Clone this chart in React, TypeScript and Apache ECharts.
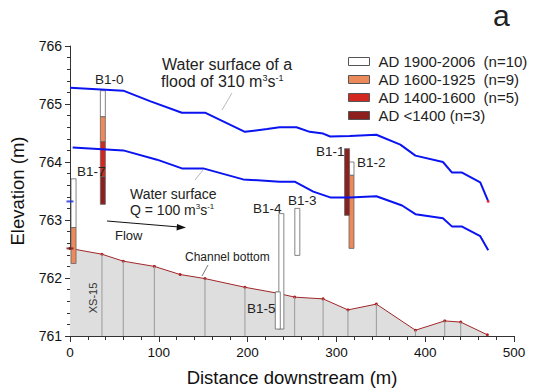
import React, { useEffect, useRef } from "react";
import * as echarts from "echarts";

// ---- data ----
const xTicks = [0, 100, 200, 300, 400, 500];
const yTicks = [761, 762, 763, 764, 765, 766];

// water surface of flood 310 m3/s  [distance, elevation]
const floodSurface: number[][] = [
  [0, 765.28], [60, 765.23], [90, 765.05], [126, 764.85], [152, 764.85], [197, 764.52],
  [222, 764.57], [236, 764.6], [255, 764.6], [270, 764.52], [285, 764.49], [293, 764.44],
  [315, 764.45], [345, 764.47], [372, 764.3], [389, 764.11], [420, 764.0], [430, 763.82],
  [441, 763.82], [462, 763.65], [471, 763.32],
];
// water surface Q = 100 m3/s
const lowSurface: number[][] = [
  [3, 764.25], [60, 764.2], [98, 764.04], [126, 763.89], [150, 763.89], [195, 763.7],
  [236, 763.66], [253, 763.66], [274, 763.49], [293, 763.39], [315, 763.39], [345, 763.41],
  [374, 763.25], [389, 763.1], [420, 763.03], [430, 762.89], [441, 762.89], [462, 762.72],
  [471, 762.48],
];
// channel bottom
const channelBottom: number[][] = [
  [0, 762.51], [36, 762.41], [60, 762.29], [95, 762.2], [124, 762.06], [152, 761.99],
  [197, 761.84], [233, 761.74], [253, 761.67], [285, 761.64], [313, 761.45], [345, 761.55],
  [389, 761.1], [422, 761.26], [440, 761.24], [470, 761.02],
];
// cross-section lines (distance, bottom elevation)
const crossSections: number[][] = [
  [36, 762.41], [60, 762.29], [95, 762.2], [152, 761.99], [197, 761.84], [253, 761.67],
  [285, 761.64], [313, 761.45], [345, 761.55], [389, 761.1], [422, 761.26], [440, 761.24],
];

// core segments by age class: [distance, top elevation, bottom elevation]
const age1900: number[][] = [
  [4, 763.71, 762.87], [37, 765.23, 764.78], [238, 763.11, 761.12], [234, 761.76, 761.12],
  [256, 763.2, 762.39], [317, 764.0, 763.77],
];
const age1600: number[][] = [
  [4, 762.87, 762.25], [37, 764.78, 764.35], [317, 763.77, 762.51],
];
const age1400: number[][] = [[37, 764.35, 763.75]];
const ageOld: number[][] = [[37, 763.75, 763.27], [312, 764.23, 763.08]];

const ageNames = ["AD 1900-2006  (n=10)", "AD 1600-1925  (n=9)", "AD 1400-1600  (n=5)", "AD <1400 (n=3)"];
const ageColors = ["#ffffff", "#ec8a5c", "#d2281f", "#8e1f1f"];

const FONT = "Liberation Sans, Arial, sans-serif";

export default function App() {
  const ref = useRef<HTMLDivElement>(null);
  useEffect(() => {
    if (!ref.current) return;
    const chart = echarts.init(ref.current, null, { renderer: "svg" });

    const coreSeries = (name: string, data: number[][], color: string) => ({
      name,
      type: "custom",
      z: 3,
      data,
      encode: { x: 0, y: [1, 2] },
      itemStyle: { color, borderColor: "#555", borderWidth: 1 },
      renderItem: (params: any, api: any) => {
        const x = api.value(0);
        const p1 = api.coord([x, api.value(1)]);
        const p2 = api.coord([x, api.value(2)]);
        const w = 5;
        return {
          type: "rect",
          shape: { x: p1[0] - w / 2, y: p1[1], width: w, height: p2[1] - p1[1] },
          style: { fill: color, stroke: "#666", lineWidth: 0.8 },
        };
      },
    });

    const txt = (left: number, top: number, text: string, size = 13, extra: any = {}) => ({
      type: "text",
      left,
      top,
      z: 20,
      style: { text, fontSize: size, fontFamily: FONT, fill: "#222", ...extra },
    });
    const rich16 = {
      n: { fontSize: 16, fontFamily: FONT, fill: "#222" },
      s: { fontSize: 9, fontFamily: FONT, fill: "#222", verticalAlign: "top", padding: [0, 0, 8, 0] },
    };
    const rich14 = {
      n: { fontSize: 14, fontFamily: FONT, fill: "#222" },
      s: { fontSize: 8, fontFamily: FONT, fill: "#222", verticalAlign: "top", padding: [0, 0, 7, 0] },
    };

    chart.setOption({
      animation: false,
      backgroundColor: "#fff",
      textStyle: { fontFamily: FONT },
      grid: { left: 70, right: 21, top: 46, bottom: 55 },
      xAxis: {
        type: "value",
        min: xTicks[0],
        max: xTicks[xTicks.length - 1],
        interval: 100,
        name: "Distance downstream (m)",
        nameLocation: "middle",
        nameGap: 32,
        nameTextStyle: { fontSize: 18.5, color: "#111", fontFamily: FONT },
        axisLine: { lineStyle: { color: "#333", width: 1 } },
        axisTick: { length: 6, lineStyle: { color: "#333" } },
        minorTick: { show: true, splitNumber: 5, length: 4, lineStyle: { color: "#333" } },
        splitLine: { show: false },
        axisLabel: { fontSize: 13.5, color: "#111", margin: 9, fontFamily: FONT },
      },
      yAxis: {
        type: "value",
        min: yTicks[0],
        max: yTicks[yTicks.length - 1],
        interval: 1,
        name: "Elevation (m)",
        nameLocation: "middle",
        nameGap: 43,
        nameTextStyle: { fontSize: 18.5, color: "#111", fontFamily: FONT },
        axisLine: { show: true, lineStyle: { color: "#333", width: 1 } },
        axisTick: { show: true, length: 5, lineStyle: { color: "#333" } },
        minorTick: { show: true, splitNumber: 5, length: 3, lineStyle: { color: "#333" } },
        splitLine: { show: false },
        axisLabel: { fontSize: 14, color: "#111", margin: 8, fontFamily: FONT },
      },
      legend: {
        orient: "vertical",
        left: 348,
        top: 54,
        padding: 0,
        itemWidth: 21,
        itemHeight: 8,
        itemGap: 3,
        icon: "rect",
        textStyle: { fontSize: 15, color: "#222", fontFamily: FONT, padding: [0, 0, 0, 4] },
        data: ageNames.map((n, i) => ({
          name: n,
          itemStyle: { color: ageColors[i], borderColor: "#555", borderWidth: 1 },
        })),
      },
      series: [
        {
          name: "Channel bottom",
          type: "line",
          z: 1,
          data: channelBottom,
          symbol: "circle",
          symbolSize: 3,
          itemStyle: { color: "#b0201f" },
          lineStyle: { color: "#a0262a", width: 1 },
          areaStyle: { color: "#dedede", opacity: 1, origin: "start" },
        },
        {
          name: "XS",
          type: "custom",
          z: 2,
          data: crossSections,
          encode: { x: 0, y: 1 },
          renderItem: (params: any, api: any) => {
            const x = api.value(0);
            const p1 = api.coord([x, 761]);
            const p2 = api.coord([x, api.value(1)]);
            return {
              type: "line",
              shape: { x1: p1[0], y1: p1[1], x2: p2[0], y2: p2[1] },
              style: { stroke: "#9a9a9a", lineWidth: 1 },
            };
          },
        },
        coreSeries(ageNames[0], age1900, ageColors[0]),
        coreSeries(ageNames[1], age1600, ageColors[1]),
        coreSeries(ageNames[2], age1400, ageColors[2]),
        coreSeries(ageNames[3], ageOld, ageColors[3]),
        {
          name: "flood",
          type: "line",
          z: 4,
          data: floodSurface,
          showSymbol: false,
          lineStyle: { color: "#0a14f0", width: 2 },
        },
        {
          name: "low",
          type: "line",
          z: 4,
          data: lowSurface,
          showSymbol: false,
          lineStyle: { color: "#0a14f0", width: 2 },
        },
        {
          name: "marks",
          type: "scatter",
          z: 5,
          data: [
            { value: [0, 763.32], itemStyle: { color: "#1a2ae0" } },
            { value: [0, 762.51], itemStyle: { color: "#6a1a1a" } },
          ],
          symbol: "rect",
          symbolSize: [7, 2],
        },
        {
          name: "endmark",
          type: "scatter",
          z: 5,
          data: [[471, 763.32]],
          symbol: "circle",
          symbolSize: 3,
          itemStyle: { color: "#ff2020" },
        },
      ],
      graphic: [
        txt(493, 0, "a", 30),
        txt(162, 56, "Water surface of a", 16),
        {
          type: "text",
          left: 161,
          top: 73,
          z: 20,
          style: { rich: rich16, text: "{n|flood of 310 m}{s|3}{n|s}{s|-1}" },
        },
        txt(130, 187, "Water surface", 14),
        {
          type: "text",
          left: 130,
          top: 202,
          z: 20,
          style: { rich: rich14, text: "{n|Q = 100 m}{s|3}{n|s}{s|-1}" },
        },
        txt(115, 229, "Flow", 13),
        txt(185, 251, "Channel bottom", 12),
        txt(95, 72, "B1-0", 13.5),
        txt(77, 164, "B1-7", 13.5),
        txt(253, 201, "B1-4", 13.5),
        txt(288, 193, "B1-3", 13.5),
        txt(247, 301, "B1-5", 13.5),
        txt(316, 144, "B1-1", 13.5),
        txt(357, 155, "B1-2", 13.5),
        {
          type: "text",
          x: 93,
          y: 298,
          z: 20,
          rotation: Math.PI / 2,
          style: { text: "XS-15", fontSize: 11, fontFamily: FONT, fill: "#333", align: "center", verticalAlign: "middle" },
        },
        { type: "line", z: 20, shape: { x1: 222, y1: 110, x2: 232, y2: 93 }, style: { stroke: "#aaa", lineWidth: 0.8 } },
        { type: "line", z: 20, shape: { x1: 195, y1: 180, x2: 203, y2: 170 }, style: { stroke: "#aaa", lineWidth: 0.8 } },
        { type: "line", z: 20, shape: { x1: 202, y1: 276, x2: 208, y2: 265 }, style: { stroke: "#555", lineWidth: 0.8 } },
        { type: "line", z: 20, shape: { x1: 107, y1: 221, x2: 179, y2: 227 }, style: { stroke: "#111", lineWidth: 1 } },
        { type: "polygon", z: 20, shape: { points: [[186, 227.5], [177, 224], [176.5, 230.5]] }, style: { fill: "#111" } },
      ],
    });
    return () => chart.dispose();
  }, []);
  return <div ref={ref} style={{ width: 535, height: 392, position: "absolute", left: 0, top: 0 }} />;
}
